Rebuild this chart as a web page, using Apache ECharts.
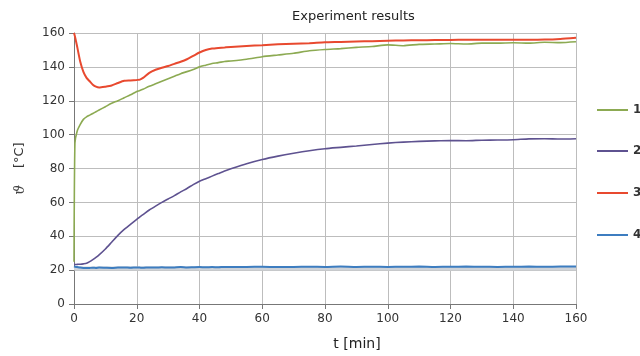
<!DOCTYPE html>
<html>
<head>
<meta charset="utf-8">
<script src="https://cdn.jsdelivr.net/npm/echarts@6/dist/echarts.min.js"></script>
<style>
html, body { margin: 0; padding: 0; background: #fff; }
#chart { width: 640px; height: 356px; }
</style>
</head>
<body>
<div id="chart"></div>
<script>
var timeMin = [0, 0.3, 1, 2, 3, 4, 5, 6, 7, 8, 10, 12, 14, 16, 18, 20, 21, 22, 24, 26, 28, 30, 32, 34, 36, 38, 40, 42, 44, 46, 48, 50, 55, 60, 65, 70, 75, 80, 85, 90, 95, 100, 105, 110, 115, 120, 125, 130, 135, 140, 145, 150, 155, 160];

var temp1 = [25, 95, 102, 106, 109, 110.5, 111.5, 112.5, 113.5, 114.5, 116.5, 118.5, 120, 121.8, 123.5, 125.5, 126, 126.8, 128.5, 130, 131.5, 133, 134.5, 136, 137.2, 138.5, 140, 141, 142, 142.5, 143.2, 143.5, 144.5, 146, 147, 148, 149.5, 150.3, 150.8, 151.5, 152, 153, 152.5, 153.3, 153.5, 153.8, 153.5, 154, 154, 154.2, 154, 154.5, 154.3, 154.8];

var temp2 = [23.3, 23.3, 23.4, 23.5, 23.7, 24, 25, 26.2, 27.5, 29, 32.5, 36.5, 40.5, 44, 47, 50, 51.5, 52.8, 55.5, 57.8, 60, 62, 64, 66.2, 68.2, 70.5, 72.5, 74, 75.5, 77, 78.5, 79.8, 82.8, 85.3, 87.3, 89, 90.5, 91.7, 92.5, 93.3, 94.2, 95, 95.6, 96, 96.3, 96.5, 96.4, 96.7, 96.8, 97, 97.5, 97.6, 97.4, 97.6];

var temp3 = [160, 158, 152, 143, 137, 133.5, 131.5, 129.5, 128.3, 127.8, 128.3, 129, 130.5, 131.8, 132, 132.3, 132.5, 133.5, 136.5, 138.3, 139.5, 140.5, 141.8, 143, 144.5, 146.5, 148.5, 150, 150.8, 151.2, 151.5, 151.8, 152.3, 152.8, 153.3, 153.7, 154, 154.5, 154.7, 155, 155.2, 155.4, 155.6, 155.7, 155.8, 155.9, 156, 156, 156, 156, 156, 156.1, 156.5, 157.2];

var temp4 = [22.2, 22, 21.8, 21.5, 21.3, 21.2, 21.3, 21.4, 21.3, 21.5, 21.4, 21.3, 21.5, 21.6, 21.4, 21.6, 21.5, 21.4, 21.6, 21.5, 21.7, 21.5, 21.6, 21.8, 21.6, 21.7, 21.8, 21.7, 21.8, 21.7, 21.9, 21.8, 21.9, 22, 21.8, 21.9, 22, 21.9, 22.1, 21.9, 22, 21.9, 22, 22.1, 21.9, 22, 22.1, 22, 21.9, 22, 22.1, 22, 22.1, 22.2];

var tempBand = [21, 21, 21, 21, 21, 20.9, 20.9, 20.9, 21, 21, 21, 21, 21, 21, 21, 21, 21, 21, 21, 21, 21, 21, 21, 21, 21, 21, 21, 21, 21, 21, 21, 21, 21, 21, 21, 21, 21, 21, 21, 21, 21, 21, 21, 21, 21, 21, 21, 21, 21, 21, 21, 21, 21, 21];

var seriesNames = ['1', '2', '3', '4'];
var seriesColors = ['#8caa52', '#5e5290', '#e8492f', '#3d7dc0'];
var xTicks = [0, 20, 40, 60, 80, 100, 120, 140, 160];
var yTicks = [0, 20, 40, 60, 80, 100, 120, 140, 160];
var legendTops = [111, 152, 194, 236];

function pairs(vals) {
    return timeMin.map(function (t, i) { return [t, vals[i]]; });
}

var myChart = echarts.init(document.getElementById('chart'));
var allTemps = [temp1, temp2, temp3, temp4];

// light grey band under curve 4
var series = [{
    name: 'band',
    type: 'line',
    data: pairs(tempBand),
    showSymbol: false,
    silent: true,
    lineStyle: { color: '#cfd3d8', width: 4 }
}];
allTemps.forEach(function (vals, i) {
    series.push({
        name: seriesNames[i],
        type: 'line',
        data: pairs(vals),
        showSymbol: false,
        smooth: 0.2,
        color: seriesColors[i],
        lineStyle: { color: seriesColors[i], width: i == 2 || i == 3 ? 2 : 1.6 }
    });
});

var legends = seriesNames.map(function (n, i) {
    return {
        data: [n],
        left: 597,
        top: legendTops[i] - 7,
        padding: 0,
        icon: 'rect',
        itemWidth: 31,
        itemHeight: 2,
        textStyle: { fontFamily: 'DejaVu Sans', fontSize: 12, fontWeight: 'bold', color: '#333' }
    };
});

var option = {
    animation: false,
    title: {
        text: 'Experiment results',
        left: 292,
        top: 10,
        padding: 0,
        textStyle: { fontFamily: 'DejaVu Sans', fontSize: 13, fontWeight: 'normal', color: '#222' }
    },
    legend: legends,
    grid: { left: 74, right: 64, top: 33, bottom: 52 },
    xAxis: {
        type: 'value',
        min: xTicks[0],
        max: xTicks[xTicks.length - 1],
        interval: 20,
        name: 't [min]',
        nameLocation: 'middle',
        nameGap: 33,
        nameTextStyle: { fontFamily: 'DejaVu Sans', fontSize: 14, color: '#222', padding: [0, 0, 0, 64] },
        axisLine: { lineStyle: { color: '#777' } },
        axisTick: { show: true, length: 5, lineStyle: { color: '#777' } },
        axisLabel: { fontFamily: 'DejaVu Sans', fontSize: 12, color: '#333', margin: 9 },
        splitLine: { show: true, lineStyle: { color: '#bdbdbd' } }
    },
    yAxis: {
        type: 'value',
        min: yTicks[0],
        max: yTicks[yTicks.length - 1],
        interval: 20,
        name: '{th|ϑ}    [°C]',
        nameLocation: 'middle',
        nameRotate: 90,
        nameGap: 47,
        nameTextStyle: {
            fontFamily: 'DejaVu Sans', fontSize: 13, color: '#333',
            rich: { th: { fontFamily: 'DejaVu Serif', fontStyle: 'italic', fontSize: 14, color: '#444' } }
        },
        axisLine: { show: true, lineStyle: { color: '#777' } },
        axisTick: { show: true, length: 5, lineStyle: { color: '#777' } },
        axisLabel: { fontFamily: 'DejaVu Sans', fontSize: 12, color: '#333', margin: 9 },
        splitLine: { show: true, lineStyle: { color: '#bdbdbd' } }
    },
    series: series
};

myChart.setOption(option);
window.addEventListener('resize', function () {
    myChart.resize();
});
</script>
</body>
</html>
